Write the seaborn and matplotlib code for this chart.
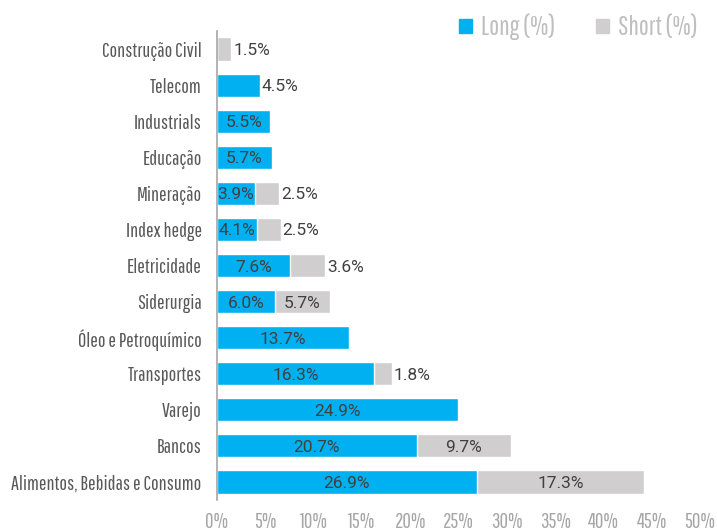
import matplotlib
matplotlib.use('Agg')
import pandas as pd
import seaborn as sns
import matplotlib.pyplot as plt
from matplotlib.patches import Patch

# Data
categories = ['Construção Civil', 'Telecom', 'Industrials', 'Educação', 'Mineração',
              'Index hedge', 'Eletricidade', 'Siderurgia', 'Óleo e Petroquímico',
              'Transportes', 'Varejo', 'Bancos', 'Alimentos, Bebidas e Consumo']
long_pct = [0.0, 4.5, 5.5, 5.7, 3.9, 4.1, 7.6, 6.0, 13.7, 16.3, 24.9, 20.7, 26.9]
short_pct = [1.5, 0.0, 0.0, 0.0, 2.5, 2.5, 3.6, 5.7, 0.0, 1.8, 0.0, 9.7, 17.3]
x_ticks = [0, 5, 10, 15, 20, 25, 30, 35, 40, 45, 50]

blue = '#00B0F0'
grey = '#D0CECE'
cond = ['Pathway Gothic One', 'Roboto Condensed', 'DejaVu Sans']
vals = ['Roboto', 'DejaVu Sans']

df = pd.DataFrame({'Setor': categories, 'Long': long_pct, 'Short': short_pct})
df['Total'] = df['Long'] + df['Short']

sns.set_style('white')
plt.rcParams['font.family'] = cond

fig = plt.figure(figsize=(7.17, 5.31), dpi=100)
ax = fig.add_axes([217 / 717, 31 / 531, 483 / 717, 469 / 531])

# stacked bars: grey total behind, blue long on top
sns.barplot(data=df, x='Total', y='Setor', orient='h', color=grey,
            width=0.64, saturation=1, ax=ax)
sns.barplot(data=df, x='Long', y='Setor', orient='h', color=blue,
            width=0.64, saturation=1, ax=ax)

# value labels
lab_kw = dict(va='center_baseline', fontsize=12.5, color='#404040', family=vals)
for i, row in df.iterrows():
    lo, sh = row['Long'], row['Short']
    if lo > 0:
        if sh == 0 and lo < 5:
            ax.text(lo + 0.1, i, f'{lo:.1f}%', ha='left', **lab_kw)
        else:
            ax.text(lo / 2, i, f'{lo:.1f}%', ha='center', **lab_kw)
    if sh > 0:
        if sh < 4:
            ax.text(lo + sh + 0.2, i, f'{sh:.1f}%', ha='left', **lab_kw)
        else:
            ax.text(lo + sh / 2, i, f'{sh:.1f}%', ha='center', **lab_kw)

ax.set_xlim(0, 50)
ax.set_ylim(len(categories) - 0.5, -0.5)
ax.set_xticks(x_ticks)
ax.set_xticklabels([f'{t}%' for t in x_ticks])
ax.set_xlabel('')
ax.set_ylabel('')
ax.tick_params(axis='x', length=0, pad=9, labelsize=15, labelcolor='#A6A6A6')
ax.tick_params(axis='y', length=0, pad=11, labelsize=14.5, labelcolor='#595959')

for s in ['top', 'right', 'bottom']:
    ax.spines[s].set_visible(False)
ax.spines['left'].set_color('#A6A6A6')
ax.spines['left'].set_linewidth(1.2)

handles = [Patch(color=blue, label='Long (%)'), Patch(color=grey, label='Short (%)')]
leg = fig.legend(handles=handles, loc='center right', bbox_to_anchor=(1.006, 0.949),
                 ncol=2, frameon=False, fontsize=19, handlelength=0.47, handleheight=0.47,
                 handletextpad=0.35, columnspacing=1.55)
for t in leg.get_texts():
    t.set_color('#BFBFBF')

fig.savefig('out.png', dpi=100)
